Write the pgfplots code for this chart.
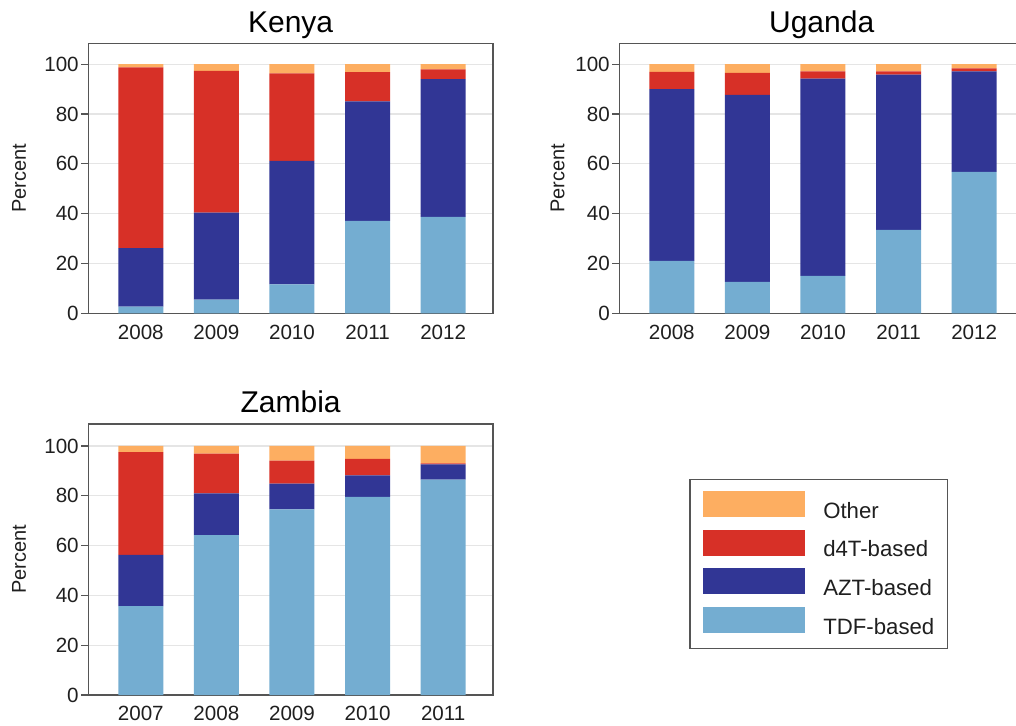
\documentclass[border=0pt]{standalone}
\usepackage{pgfplots}
\pgfplotsset{compat=1.18}
\usepackage{pgfplotstable}
\usepackage{fontspec}
\setmainfont{Liberation Sans}
\definecolor{cOther}{HTML}{FDAE61}
\definecolor{cD4T}{HTML}{D73027}
\definecolor{cAZT}{HTML}{313695}
\definecolor{cTDF}{HTML}{74ADD1}
\definecolor{axgray}{HTML}{555555}

\pgfplotstableread{
x TDF AZT D4T Other
0 2.7 23.5 72.5 1.3
1 5.5 34.9 56.9 2.7
2 11.6 49.6 35.1 3.7
3 37.1 48.0 11.7 3.2
4 38.7 55.3 3.9 2.1
}\kenya
\pgfplotstableread{
x TDF AZT D4T Other
0 21.0 69.0 6.9 3.1
1 12.6 75.1 8.8 3.5
2 15.0 79.2 2.9 2.9
3 33.5 62.3 1.3 2.9
4 56.8 40.3 1.2 1.7
}\uganda
\pgfplotstableread{
x TDF AZT D4T Other
0 35.7 20.6 41.2 2.5
1 64.2 16.8 15.9 3.1
2 74.5 10.4 9.2 5.9
3 79.5 8.7 6.6 5.2
4 86.5 6.1 0.4 7.0
}\zambia

\pgfplotsset{
  panel/.style={
    scale only axis,
    width=202.35pt,
    ybar stacked,
    bar width=22.5pt,
    xmin=-0.694, xmax=4.659,
    ymin=0,
    xtick={0,1,2,3,4},
    ytick={0,20,40,60,80,100},
    major x tick style={draw=none},
    ymajorgrids,
    grid style={gray!20, line width=0.6pt},
    axis line style={axgray, line width=0.6pt},
    major y tick style={axgray, line width=0.6pt},
    tick align=outside,
    major tick length=3.6pt,
    ytick pos=left,
    xtick pos=bottom,
    /pgf/number format/assume math mode=true,
    tick label style={font=\fontsize{10.3}{12}\selectfont, text=black!88},
    yticklabel style={inner sep=1pt},
    xticklabel style={inner sep=0pt, yshift=-2pt},
    ylabel={Percent},
    ylabel style={font=\fontsize{10}{12}\selectfont, text=black!88, anchor=base, inner sep=0pt},
    title style={font=\fontsize{15}{17}\selectfont, at={(0.5,1)}, anchor=base, yshift=-0.4pt, inner sep=0pt},
    every axis plot/.append style={draw=none},
    legend image code/.code={\fill[##1] (0pt,-2.6pt) rectangle (51pt,10.4pt);},
  }
}

\begin{document}
\begin{tikzpicture}
\useasboundingbox (0,0) rectangle (508pt,362.5pt);
\clip (0,0) rectangle (508pt,362.5pt);

\begin{axis}[panel, at={(44.15pt,205.85pt)}, anchor=south west, height=135pt, ymax=108.4,
  title={Kenya}, xticklabels={2008,2009,2010,2011,2012},
  ylabel style={at={(axis description cs:-0.154,0.5)}}]
\addplot[fill=cTDF] table[x=x,y=TDF]{\kenya};
\addplot[fill=cAZT] table[x=x,y=AZT]{\kenya};
\addplot[fill=cD4T] table[x=x,y=D4T]{\kenya};
\addplot[fill=cOther] table[x=x,y=Other]{\kenya};
\end{axis}

\begin{axis}[panel, at={(309.65pt,205.85pt)}, anchor=south west, height=135pt, ymax=108.4,
  title={Uganda}, xticklabels={2008,2009,2010,2011,2012},
  ylabel style={at={(axis description cs:-0.136,0.5)}}]
\addplot[fill=cTDF] table[x=x,y=TDF]{\uganda};
\addplot[fill=cAZT] table[x=x,y=AZT]{\uganda};
\addplot[fill=cD4T] table[x=x,y=D4T]{\uganda};
\addplot[fill=cOther] table[x=x,y=Other]{\uganda};
\end{axis}

\begin{axis}[panel, at={(44.15pt,15pt)}, anchor=south west, height=135.5pt, ymax=108.8,
  title={Zambia}, xticklabels={2007,2008,2009,2010,2011},
  ylabel style={at={(axis description cs:-0.154,0.5)}},
  reverse legend,
  legend style={at={(1.485,0.796)}, anchor=north west, draw=axgray, line width=0.6pt,
    inner xsep=6.7pt, inner ysep=5.6pt, row sep=4.1pt, column sep=9pt,
    font=\fontsize{11.1}{13}\selectfont, text=black!88,
    nodes={inner sep=0pt}},
  legend cell align=left]
\addplot[fill=cTDF] table[x=x,y=TDF]{\zambia};
\addplot[fill=cAZT] table[x=x,y=AZT]{\zambia};
\addplot[fill=cD4T] table[x=x,y=D4T]{\zambia};
\addplot[fill=cOther] table[x=x,y=Other]{\zambia};
\legend{TDF-based,AZT-based,d4T-based,Other}
\end{axis}
\end{tikzpicture}
\end{document}
